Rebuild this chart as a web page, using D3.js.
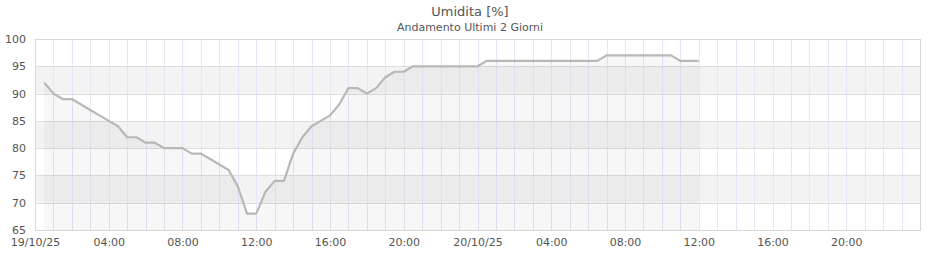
<!DOCTYPE html>
<html>
<head>
<meta charset="utf-8">
<script src="https://cdn.jsdelivr.net/npm/d3@7"></script>
<style>
  body { margin: 0; background: #fff; }
  svg { font-family: "DejaVu Sans", sans-serif; }
</style>
</head>
<body>
<div class="chart"></div>
<script>
// Umidita - ultimi 2 giorni
const times = [
  "19/10/25 00:30", "19/10/25 01:00", "19/10/25 01:30", "19/10/25 02:00", "19/10/25 02:30", "19/10/25 03:00",
  "19/10/25 03:30", "19/10/25 04:00", "19/10/25 04:30", "19/10/25 05:00", "19/10/25 05:30", "19/10/25 06:00",
  "19/10/25 06:30", "19/10/25 07:00", "19/10/25 07:30", "19/10/25 08:00", "19/10/25 08:30", "19/10/25 09:00",
  "19/10/25 09:30", "19/10/25 10:00", "19/10/25 10:30", "19/10/25 11:00", "19/10/25 11:30", "19/10/25 12:00",
  "19/10/25 12:30", "19/10/25 13:00", "19/10/25 13:30", "19/10/25 14:00", "19/10/25 14:30", "19/10/25 15:00",
  "19/10/25 15:30", "19/10/25 16:00", "19/10/25 16:30", "19/10/25 17:00", "19/10/25 17:30", "19/10/25 18:00",
  "19/10/25 18:30", "19/10/25 19:00", "19/10/25 19:30", "19/10/25 20:00", "19/10/25 20:30", "19/10/25 21:00",
  "19/10/25 21:30", "19/10/25 22:00", "19/10/25 22:30", "19/10/25 23:00", "19/10/25 23:30", "20/10/25 00:00",
  "20/10/25 00:30", "20/10/25 01:00", "20/10/25 01:30", "20/10/25 02:00", "20/10/25 02:30", "20/10/25 03:00",
  "20/10/25 03:30", "20/10/25 04:00", "20/10/25 04:30", "20/10/25 05:00", "20/10/25 05:30", "20/10/25 06:00",
  "20/10/25 06:30", "20/10/25 07:00", "20/10/25 07:30", "20/10/25 08:00", "20/10/25 08:30", "20/10/25 09:00",
  "20/10/25 09:30", "20/10/25 10:00", "20/10/25 10:30", "20/10/25 11:00", "20/10/25 11:30", "20/10/25 12:00"
]
const umidita = [
  92, 90, 89, 89, 88, 87, 86, 85, 84, 82, 82, 81,
  81, 80, 80, 80, 79, 79, 78, 77, 76, 73, 68, 68,
  72, 74, 74, 79, 82, 84, 85, 86, 88, 91, 91, 90,
  91, 93, 94, 94, 95, 95, 95, 95, 95, 95, 95, 95,
  96, 96, 96, 96, 96, 96, 96, 96, 96, 96, 96, 96,
  96, 97, 97, 97, 97, 97, 97, 97, 97, 96, 96, 96
]
const yTicks = [65, 70, 75, 80, 85, 90, 95, 100]
const xStart = "19/10/25 00:00"
const xEnd = "21/10/25 00:00"

const parse = d3.timeParse("%d/%m/%y %H:%M")
const data = times.map((t, i) => ({ date: parse(t), value: umidita[i] }))

const width = 940
const height = 260
const margin = { top: 39, right: 20, bottom: 30, left: 35 }

const svg = d3.select(".chart")
  .append("svg")
  .attr("width", width)
  .attr("height", height)

const x = d3.scaleTime()
  .domain([parse(xStart), parse(xEnd)])
  .range([margin.left, width - margin.right])

const y = d3.scaleLinear()
  .domain([65, 100])
  .range([height - margin.bottom, margin.top])

// bande alternate
svg.append("g")
  .selectAll("rect")
  .data(d3.pairs(yTicks))
  .join("rect")
  .attr("x", margin.left)
  .attr("width", x.range()[1] - x.range()[0])
  .attr("y", (d) => y(d[1]))
  .attr("height", (d) => y(d[0]) - y(d[1]))
  .attr("fill", (d, i) => (i % 2 ? "#f3f3f3" : "#ffffff"))

// griglia verticale oraria
svg.append("g")
  .selectAll("line")
  .data(d3.timeHour.range(x.domain()[0], x.domain()[1]).slice(1))
  .join("line")
  .attr("x1", (d) => Math.round(x(d)) + 0.5)
  .attr("x2", (d) => Math.round(x(d)) + 0.5)
  .attr("y1", y(100))
  .attr("y2", y(65))
  .attr("stroke", "#e8e6f6")

// griglia orizzontale
svg.append("g")
  .selectAll("line")
  .data(yTicks)
  .join("line")
  .attr("x1", margin.left)
  .attr("x2", width - margin.right)
  .attr("y1", (d) => Math.round(y(d)) + 0.5)
  .attr("y2", (d) => Math.round(y(d)) + 0.5)
  .attr("stroke", "#dddddd")

// area sotto la linea
svg.append("path")
  .datum(data)
  .attr("fill", "rgba(0,0,0,0.03)")
  .attr("d", d3.area().x((d) => x(d.date)).y0(y(65)).y1((d) => y(d.value)))

svg.append("path")
  .datum(data)
  .attr("fill", "none")
  .attr("stroke", "#b8b8b8")
  .attr("stroke-width", 2.2)
  .attr("stroke-linejoin", "round")
  .attr("d", d3.line().x((d) => x(d.date)).y((d) => y(d.value)))

// bordo
svg.append("rect")
  .attr("x", margin.left + 0.5)
  .attr("y", Math.round(y(100)) + 0.5)
  .attr("width", x.range()[1] - x.range()[0])
  .attr("height", Math.round(y(65)) - Math.round(y(100)))
  .attr("fill", "none")
  .attr("stroke", "#d8d8d8")

// assi
const fmt = (d) => (d.getHours() === 0 ? d3.timeFormat("%d/%m/%y")(d) : d3.timeFormat("%H:%M")(d))
const xAxis = svg.append("g")
  .attr("transform", `translate(0, ${y(65)})`)
  .call(d3.axisBottom(x).tickValues(d3.timeHour.every(4).range(x.domain()[0], x.domain()[1]).slice(0, 12)).tickFormat(fmt).tickSize(0).tickPadding(8))
xAxis.select(".domain").remove()
xAxis.selectAll("text").attr("fill", "#555").attr("font-size", "11px").attr("font-family", "DejaVu Sans")

const yAxis = svg.append("g")
  .attr("transform", `translate(${margin.left}, 0)`)
  .call(d3.axisLeft(y).tickValues(yTicks).tickSize(0).tickPadding(9))
yAxis.select(".domain").remove()
yAxis.selectAll("text").attr("fill", "#555").attr("font-size", "11px").attr("font-family", "DejaVu Sans")

// titoli
svg.append("text")
  .attr("x", 470)
  .attr("y", 16)
  .attr("text-anchor", "middle")
  .attr("fill", "#555")
  .attr("font-size", "13px")
  .text("Umidita [%]")

svg.append("text")
  .attr("x", 470)
  .attr("y", 31)
  .attr("text-anchor", "middle")
  .attr("fill", "#555")
  .attr("font-size", "11px")
  .text("Andamento Ultimi 2 Giorni")
</script>
</body>
</html>
